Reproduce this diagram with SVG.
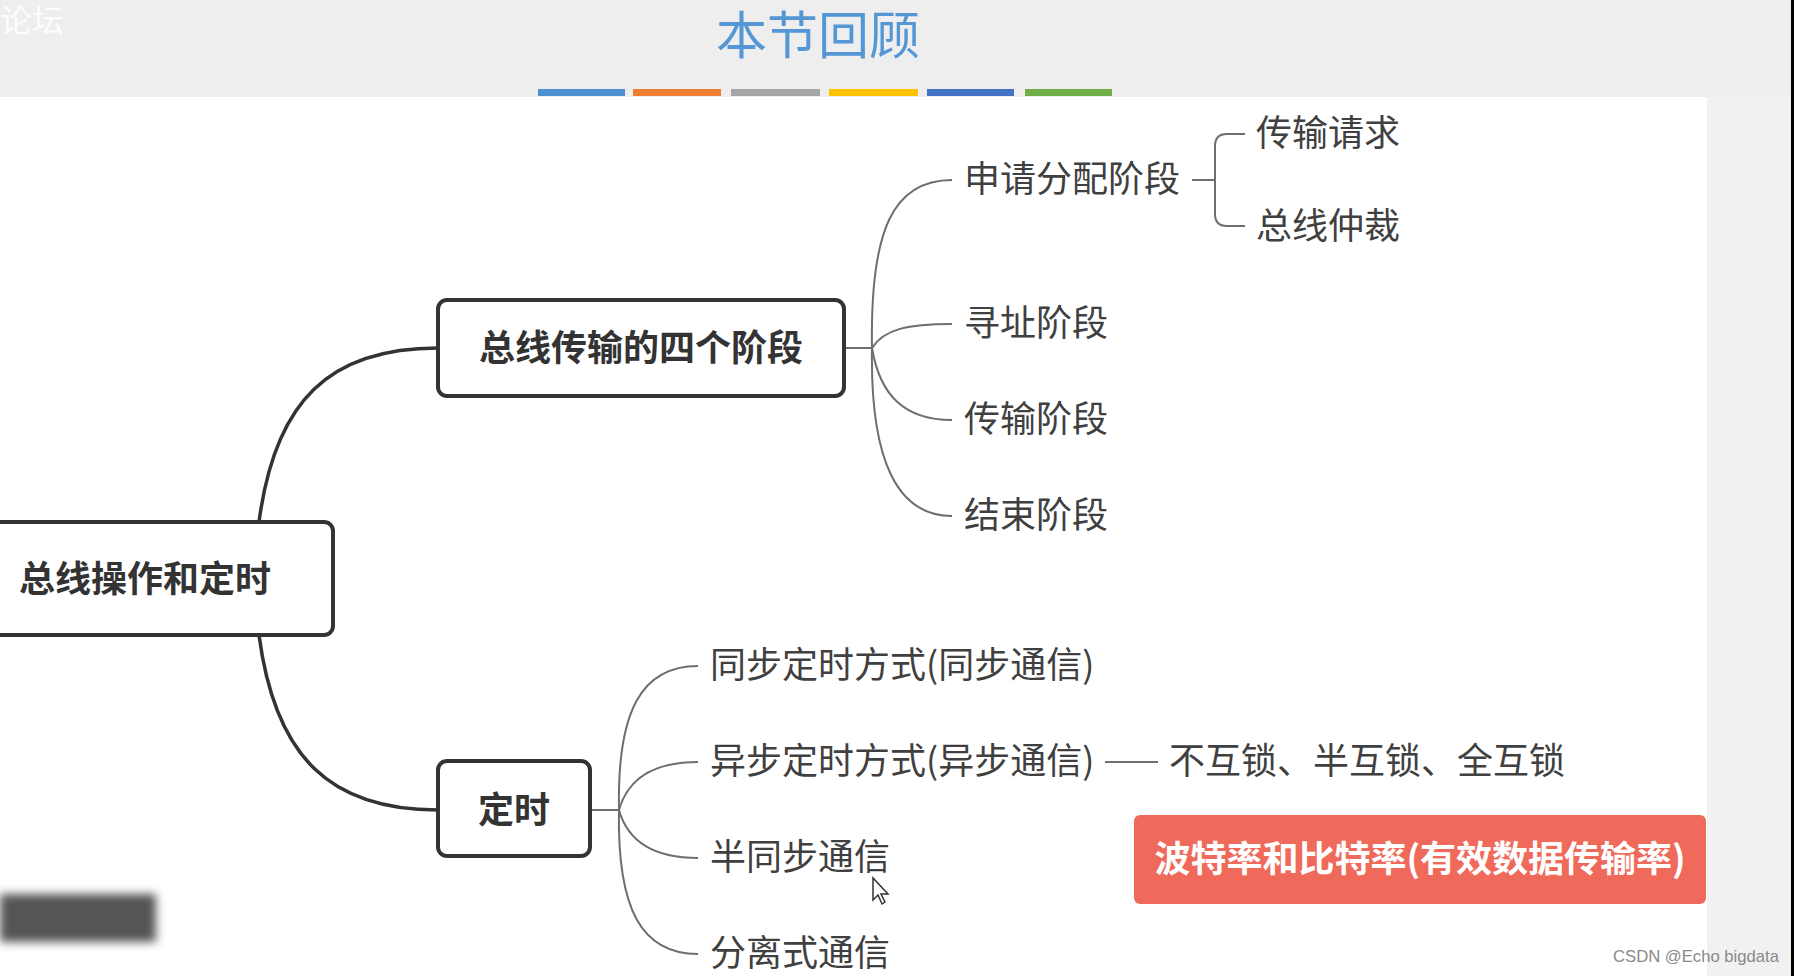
<svg xmlns="http://www.w3.org/2000/svg" width="1794" height="976" viewBox="0 0 1794 976">
<defs>
<style>
.cjk{font-family:"Noto Sans CJK SC","Noto Sans",sans-serif}
.node rect{fill:#ffffff;stroke:#333333;stroke-width:4}
.nodetext{font-size:36px;font-weight:bold;fill:#333333;text-anchor:middle}
.leaf{font-size:36px;fill:#404040}
.main{fill:none;stroke:#333333;stroke-width:3.5}
.thin{fill:none;stroke:#6e6e6e;stroke-width:2}
</style>
<filter id="blur" x="-20%" y="-50%" width="140%" height="200%"><feGaussianBlur stdDeviation="5"/></filter>
</defs>
<rect x="0" y="0" width="1794" height="976" fill="#f1f1f1"/>
<rect x="0" y="0" width="1794" height="97" fill="#eeeeee"/>
<rect x="0" y="97" width="1707" height="879" fill="#ffffff"/>
<rect x="1791" y="0" width="3" height="976" fill="#000000"/>
<text class="cjk" x="0" y="32" font-size="32" fill="#ffffff" opacity="0.85">论坛</text>
<text class="cjk" x="818" y="54" font-size="51" fill="#5597d4" text-anchor="middle">本节回顾</text>
<g id="colorbar">
<rect x="538" y="89" width="87" height="7" fill="#4e8fcf"/>
<rect x="633" y="89" width="88" height="7" fill="#ed7d31"/>
<rect x="731" y="89" width="89" height="7" fill="#a5a5a5"/>
<rect x="829" y="89" width="89" height="7" fill="#ffc000"/>
<rect x="927" y="89" width="87" height="7" fill="#4472c4"/>
<rect x="1025" y="89" width="87" height="7" fill="#70ad47"/>
</g>
<g id="connectors">
<path class="main" d="M259,522 C275,400 330,348 438,348"/>
<path class="main" d="M259,635 C275,757 330,810 438,810"/>
<path class="thin" d="M844,348 L872,348"/>
<path class="thin" d="M872,348 C870,230 893,180 952,180"/>
<path class="thin" d="M872,348 C884,329 908,324 952,324"/>
<path class="thin" d="M872,348 C880,396 905,420 952,420"/>
<path class="thin" d="M872,348 C870,462 898,516 952,516"/>
<path class="thin" d="M1192,180 L1215,180 M1215,180 L1215,146 Q1215,134 1227,134 L1245,134 M1215,180 L1215,214 Q1215,226 1227,226 L1245,226"/>
<path class="thin" d="M590,810 L619,810"/>
<path class="thin" d="M619,810 C617,710 642,666 698,666"/>
<path class="thin" d="M619,810 C628,778 655,762 698,762"/>
<path class="thin" d="M619,810 C628,842 655,858 698,858"/>
<path class="thin" d="M619,810 C617,910 642,954 698,954"/>
<path class="thin" d="M1105,762 L1158,762"/>
</g>
<g id="root" class="node">
<rect x="-10" y="522" width="343" height="113" rx="9"/>
<text class="cjk nodetext" x="145" y="592">总线操作和定时</text>
</g>
<g id="stages" class="node">
<rect x="438" y="300" width="406" height="96" rx="9"/>
<text class="cjk nodetext" x="641" y="361">总线传输的四个阶段</text>
</g>
<g id="timing" class="node">
<rect x="438" y="761" width="152" height="95" rx="9"/>
<text class="cjk nodetext" x="514" y="823">定时</text>
</g>
<g id="apply"><text class="cjk leaf" x="964" y="192">申请分配阶段</text></g>
<g id="request"><text class="cjk leaf" x="1256" y="146">传输请求</text></g>
<g id="arbitration"><text class="cjk leaf" x="1256" y="239">总线仲裁</text></g>
<g id="address"><text class="cjk leaf" x="964" y="336">寻址阶段</text></g>
<g id="transfer"><text class="cjk leaf" x="964" y="432">传输阶段</text></g>
<g id="end"><text class="cjk leaf" x="964" y="528">结束阶段</text></g>
<g id="sync"><text class="cjk leaf" x="710" y="678">同步定时方式(同步通信)</text></g>
<g id="async"><text class="cjk leaf" x="710" y="774">异步定时方式(异步通信)</text></g>
<g id="interlock"><text class="cjk leaf" x="1169" y="774">不互锁、半互锁、全互锁</text></g>
<g id="semisync"><text class="cjk leaf" x="710" y="870">半同步通信</text></g>
<g id="split"><text class="cjk leaf" x="710" y="966">分离式通信</text></g>
<g id="baud">
<rect x="1134" y="815" width="572" height="89" rx="6" fill="#ef6a5b"/>
<text class="cjk" x="1420" y="872" font-size="36" font-weight="bold" fill="#ffffff" text-anchor="middle">波特率和比特率(有效数据传输率)</text>
</g>
<rect x="0" y="894" width="156" height="48" fill="#555555" filter="url(#blur)"/>
<path d="M873,878 L873,900 L878,895 L882,904 L885,902 L881,894 L888,894 Z" fill="#ffffff" stroke="#333333" stroke-width="1.5"/>
<text x="1613" y="962" font-family="Liberation Sans, sans-serif" font-size="17" fill="#8a8a8a" textLength="166" lengthAdjust="spacingAndGlyphs">CSDN @Echo bigdata</text>
</svg>
